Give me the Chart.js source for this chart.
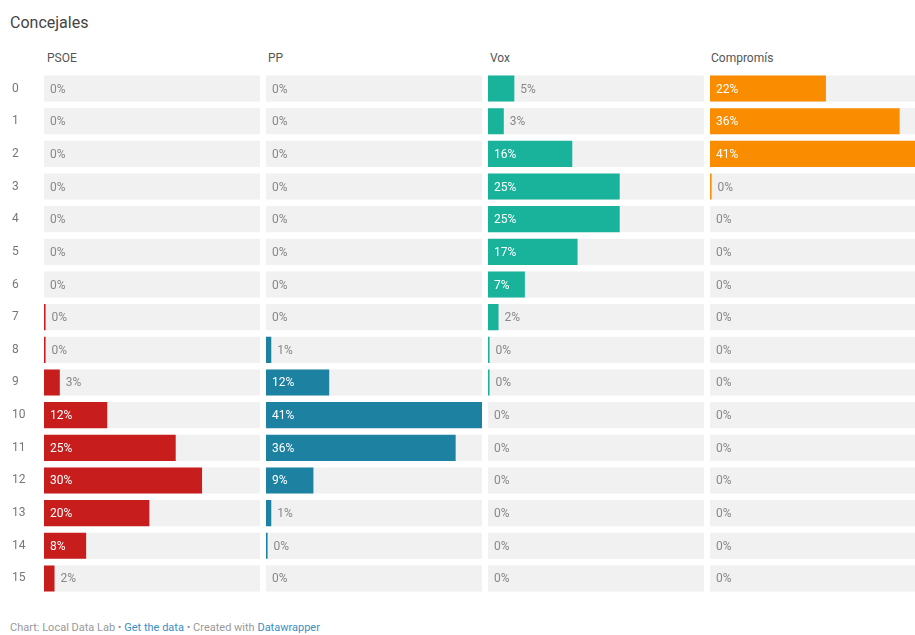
<!DOCTYPE html>
<html>
<head>
<meta charset="utf-8">
<script src="https://cdn.jsdelivr.net/npm/chart.js@4"></script>
<style>
  body { margin: 0; background: #fff; font-family: Roboto, sans-serif; }
  #wrap { position: relative; width: 915px; height: 635px; overflow: hidden; }
  .txt { position: absolute; white-space: nowrap; }
  #title { left: 10px; top: 13px; font-size: 16px; color: #444; }
  .head { top: 51px; font-size: 12px; color: #555; }
  #foot { left: 10px; top: 621px; font-size: 11px; color: #999; }
  #foot span { color: #3a8fc4; }
  canvas { position: absolute; }
</style>
</head>
<body>
<div id="wrap">
  <div class="txt" id="title">Concejales</div>
  <div class="txt head" style="left:47px">PSOE</div>
  <div class="txt head" style="left:268px">PP</div>
  <div class="txt head" style="left:490px">Vox</div>
  <div class="txt head" style="left:711px">Compromís</div>
  <canvas id="c0" width="248" height="537" style="left:12px;top:65px"></canvas>
  <canvas id="c1" width="216" height="537" style="left:266px;top:65px"></canvas>
  <canvas id="c2" width="216" height="537" style="left:488px;top:65px"></canvas>
  <canvas id="c3" width="216" height="537" style="left:710px;top:65px"></canvas>
  <div class="txt" id="foot">Chart: Local Data Lab • <span>Get the data</span> • Created with <span>Datawrapper</span></div>
</div>
<script>
// filas = numero de concejales
const rows = ['0','1','2','3','4','5','6','7','8','9','10','11','12','13','14','15'];

// valores en % por partido (los 0.3 salen como una rayita y se ven como 0%)
const psoe = [0, 0, 0, 0, 0, 0, 0, 0.3, 0.3, 3, 12, 25, 30, 20, 8, 2];
const pp = [0, 0, 0, 0, 0, 0, 0, 0, 1, 12, 41, 36, 9, 1, 0.3, 0];
const vox = [5, 3, 16, 25, 25, 17, 7, 2, 0.3, 0.3, 0, 0, 0, 0, 0, 0];
const compromis = [22, 36, 41, 0.3, 0, 0, 0, 0, 0, 0, 0, 0, 0, 0, 0, 0];

const colors = ['#c71e1d', '#1d81a2', '#19b39b', '#fa8c00'];
const maxVal = 41;

// fondo gris de cada fila
const bandPlugin = {
    id: 'bands',
    beforeDatasetsDraw(chart) {
        const ctx = chart.ctx;
        const area = chart.chartArea;
        const y = chart.scales.y;
        const h = y.getPixelForValue(1) - y.getPixelForValue(0);
        ctx.save();
        ctx.fillStyle = '#f1f1f1';
        rows.forEach((r, i) => {
            const cy = y.getPixelForValue(i);
            ctx.fillRect(area.left, cy - h * 0.4, area.right - area.left, h * 0.8);
        });
        ctx.restore();
    }
};

// etiquetas con el porcentaje
const labelPlugin = {
    id: 'labels',
    afterDatasetsDraw(chart) {
        const ctx = chart.ctx;
        const meta = chart.getDatasetMeta(0);
        const data = chart.data.datasets[0].data;
        ctx.save();
        ctx.font = '12px Roboto, sans-serif';
        ctx.textBaseline = 'middle';
        meta.data.forEach((bar, i) => {
            const v = data[i];
            const txt = Math.round(v) + '%';
            if (v >= 7) {
                ctx.fillStyle = '#fff';
                ctx.fillText(txt, bar.base + 6, bar.y + 1);
            } else {
                ctx.fillStyle = '#888';
                ctx.fillText(txt, Math.max(bar.x, bar.base) + 6, bar.y + 1);
            }
        });
        ctx.restore();
    }
};

function makeChart(id, values, color, showRows) {
    return new Chart(document.getElementById(id), {
        type: 'bar',
        data: {
            labels: rows,
            datasets: [{
                data: values,
                backgroundColor: color,
                barPercentage: 0.8,
                categoryPercentage: 1
            }]
        },
        options: {
            indexAxis: 'y',
            responsive: false,
            animation: false,
            layout: { padding: 0 },
            plugins: { legend: { display: false }, tooltip: { enabled: false } },
            scales: {
                x: { display: false, min: 0, max: maxVal },
                y: {
                    grid: { display: false },
                    border: { display: false },
                    afterFit: (s) => { s.width = showRows ? 32 : 0; },
                    ticks: {
                        crossAlign: 'far',
                        padding: 0,
                        color: showRows ? '#777' : 'rgba(0,0,0,0)',
                        font: { family: 'Roboto, sans-serif', size: 12 }
                    }
                }
            }
        },
        plugins: [bandPlugin, labelPlugin]
    });
}

makeChart('c0', psoe, colors[0], true);
makeChart('c1', pp, colors[1], false);
makeChart('c2', vox, colors[2], false);
makeChart('c3', compromis, colors[3], false);
</script>
</body>
</html>
